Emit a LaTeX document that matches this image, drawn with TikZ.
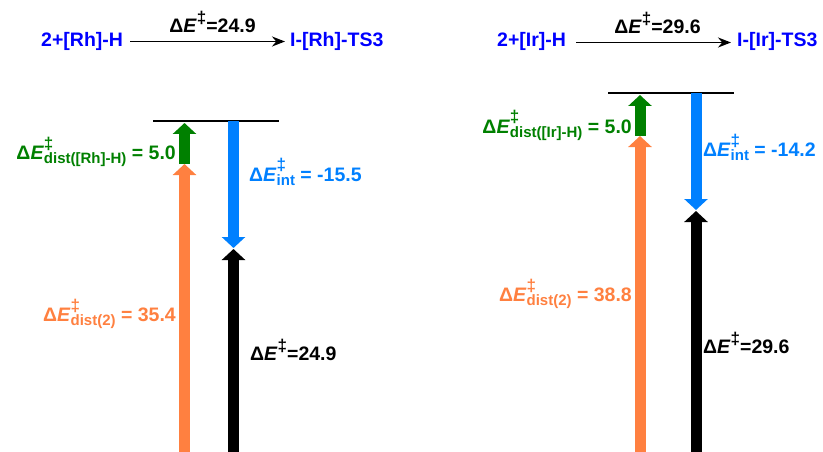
\documentclass[tikz,border=0pt]{standalone}
\usepackage{fontspec}
\setmainfont{Liberation Sans}
\usetikzlibrary{arrows.meta}
\definecolor{tblue}{RGB}{0,0,255}
\definecolor{dgreen}{RGB}{0,128,0}
\definecolor{orng}{RGB}{255,128,64}
\definecolor{lblue}{RGB}{0,128,255}
\newcommand\dEsub[1]{Δ\textit{E}\rlap{\raisebox{10pt}{\fontsize{17}{17}\selectfont ‡}}\raisebox{-4pt}{\fontsize{15}{15}\selectfont #1}}
\newcommand\dEsup{Δ\textit{E}\raisebox{9pt}{\fontsize{17}{17}\selectfont ‡}}
\tikzset{
  txt/.style={font=\fontsize{19.5}{22}\selectfont\bfseries, inner sep=0pt},
  bigarrow/.style={line width=11pt, -{Triangle[width=23pt,length=11pt]}},
  rxn/.style={line width=1.8pt, -{Stealth[length=13pt,width=10pt]}},
  level/.style={line width=1.8pt}
}
\begin{document}
\begin{tikzpicture}[x=1pt,y=-1pt]
\useasboundingbox (0,0) rectangle (823,452);
% ---------- left panel ----------
\node[txt, tblue, anchor=base west] (rA) at (41,47) {2+[Rh]-H};
\node[txt, tblue, anchor=base west] (rB) at (290,47) {I-[Rh]-TS3};
\coordinate (ra1) at (130,41.5);
\coordinate (ra2) at (285,41.5);
\draw[rxn] (ra1) -- (ra2);
\node[txt, anchor=base] (rlab) at (212.5,33) {\dEsup=24.9};
\coordinate (lL) at (153,121);
\coordinate (lR) at (279,121);
\draw[level] (lL) -- (lR);
\coordinate (gB) at (184.5,164);
\coordinate (gT) at (184.5,123);
\coordinate (oB) at (184.5,452);
\coordinate (bT) at (233.5,121);
\coordinate (bB) at (233.5,248);
\coordinate (kB) at (233.5,452);
\coordinate (kT) at (233.5,249);
\draw[bigarrow, orng] (oB) -- (gB);
\draw[bigarrow, dgreen] (gB) -- (gT);
\draw[bigarrow, lblue] (bT) -- (bB);
\draw[bigarrow, black] (kB) -- (kT);
\node[txt, dgreen, anchor=base east] (g1) at (176,160) {\dEsub{dist([Rh]-H)} = 5.0};
\node[txt, lblue, anchor=base west] (b1) at (249,181) {\dEsub{int} = -15.5};
\node[txt, orng, anchor=base east] (o1) at (176,321) {\dEsub{dist(2)} = 35.4};
\node[txt, black, anchor=base west] (k1) at (250,360) {\dEsup=24.9};
% ---------- right panel ----------
\node[txt, tblue, anchor=base west] (iA) at (497,47) {2+[Ir]-H};
\node[txt, tblue, anchor=base west] (iB) at (737,47) {I-[Ir]-TS3};
\coordinate (ia1) at (576,42.5);
\coordinate (ia2) at (731,42.5);
\draw[rxn] (ia1) -- (ia2);
\node[txt, anchor=base] (ilab) at (657.5,34) {\dEsup=29.6};
\coordinate (mL) at (608,93);
\coordinate (mR) at (734,93);
\draw[level] (mL) -- (mR);
\coordinate (gB2) at (640,136);
\coordinate (gT2) at (640,95);
\coordinate (oB2) at (640,452);
\coordinate (bT2) at (696,93);
\coordinate (bB2) at (696,210);
\coordinate (kB2) at (696,452);
\coordinate (kT2) at (696,211);
\draw[bigarrow, orng] (oB2) -- (gB2);
\draw[bigarrow, dgreen] (gB2) -- (gT2);
\draw[bigarrow, lblue] (bT2) -- (bB2);
\draw[bigarrow, black] (kB2) -- (kT2);
\node[txt, dgreen, anchor=base east] (g2) at (632,133) {\dEsub{dist([Ir]-H)} = 5.0};
\node[txt, lblue, anchor=base west] (b2) at (703,157) {\dEsub{int} = -14.2};
\node[txt, orng, anchor=base east] (o2) at (632,301) {\dEsub{dist(2)} = 38.8};
\node[txt, black, anchor=base west] (k2) at (703,353) {\dEsup=29.6};
\end{tikzpicture}
\end{document}
